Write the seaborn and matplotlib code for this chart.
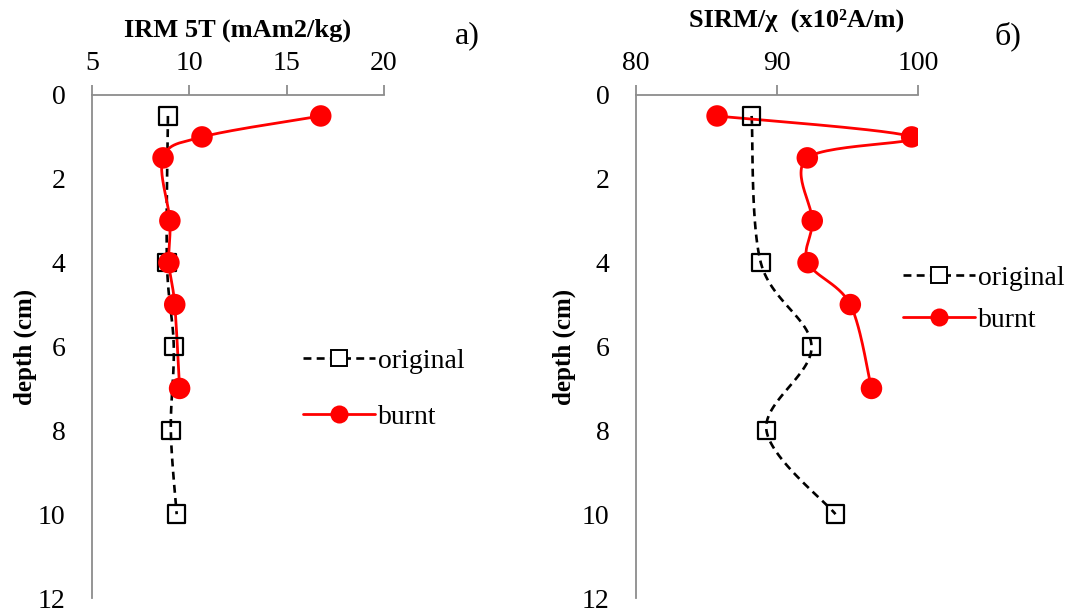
import numpy as np
import pandas as pd
import seaborn as sns
import matplotlib.pyplot as plt
from matplotlib.lines import Line2D

# depth (cm) and measured values
depth_orig = [0.5, 4, 6, 8, 10]
depth_burnt = [0.5, 1, 1.5, 3, 4, 5, 7]

irm_orig = [8.9, 8.85, 9.2, 9.05, 9.35]
irm_burnt = [16.75, 10.65, 8.65, 9.0, 8.95, 9.25, 9.5]

sirm_orig = [88.2, 88.85, 92.45, 89.25, 94.15]
sirm_burnt = [85.75, 99.55, 92.15, 92.5, 92.2, 95.2, 96.7]

panels = [
    dict(title="IRM 5T (mAm2/kg)", tag="a)", xlim=(5, 20), xticks=[5, 10, 15, 20],
         orig=irm_orig, burnt=irm_burnt, ylab_x=37,
         title_xy=(238, 30), tag_xy=(467, 36), leg_xy=(303, 389), spacing=1.1),
    dict(title="SIRM/χ  (x10²A/m)", tag="б)", xlim=(80, 100), xticks=[80, 90, 100],
         orig=sirm_orig, burnt=sirm_burnt, ylab_x=576,
         title_xy=(797, 20), tag_xy=(1008, 36), leg_xy=(903, 299), spacing=0.6),
]


def smooth(x, y, sx, sy, n=30):
    # Excel-like smoothed line: cubic bezier through the points
    p = np.column_stack([np.asarray(x) * sx, np.asarray(y) * sy])
    ext = np.vstack([p[0], p, p[-1]])
    out = []
    t = np.linspace(0, 1, n)[:, None]
    for i in range(1, len(ext) - 2):
        p0, p1, p2, p3 = ext[i - 1], ext[i], ext[i + 1], ext[i + 2]
        c1 = p1 + (p2 - p0) / 6
        c2 = p2 - (p3 - p1) / 6
        seg = ((1 - t) ** 3) * p1 + 3 * ((1 - t) ** 2) * t * c1 + 3 * (1 - t) * t ** 2 * c2 + t ** 3 * p2
        out.append(seg if i == 1 else seg[1:])
    out = np.vstack(out)
    return out[:, 0] / sx, out[:, 1] / sy


sns.set_theme(style="white")
plt.rcParams['font.family'] = ['Liberation Serif', 'DejaVu Serif']
plt.rcParams['text.color'] = 'black'
plt.rcParams['axes.labelcolor'] = 'black'
gray = "#8c8c8c"
W, H = 1065, 610

fig = plt.figure(figsize=(W / 100, H / 100), dpi=100)
axes = [fig.add_axes([92 / W, 12 / H, 292 / W, 503 / H]),
        fig.add_axes([636 / W, 12 / H, 282 / W, 503 / H])]

for ax, pn in zip(axes, panels):
    x0, x1 = pn["xlim"]
    pos = ax.get_position()
    w_px, h_px = pos.width * W, pos.height * H
    sx, sy = w_px / (x1 - x0), h_px / 12

    xs, ys = smooth(pn["orig"], depth_orig, sx, sy)
    sns.lineplot(x=xs, y=ys, sort=False, estimator=None, ax=ax, color="black",
                 lw=1.9, linestyle=(0, (3, 2)), zorder=2)
    xs, ys = smooth(pn["burnt"], depth_burnt, sx, sy)
    sns.lineplot(x=xs, y=ys, sort=False, estimator=None, ax=ax, color="red",
                 lw=2.0, zorder=3)
    sns.scatterplot(x=pn["orig"], y=depth_orig, ax=ax, marker="s", s=160,
                    facecolor="none", edgecolor="black", linewidth=1.6, zorder=4)
    sns.scatterplot(x=pn["burnt"], y=depth_burnt, ax=ax, marker="o", s=240,
                    color="red", edgecolor="none", zorder=5)

    ax.set_xlim(x0, x1)
    ax.set_ylim(12, 0)
    ax.set_xticks(pn["xticks"])
    ax.set_yticks(range(0, 13, 2))
    ax.xaxis.tick_top()
    for s in ["right", "bottom"]:
        ax.spines[s].set_visible(False)
    for s in ["left", "top"]:
        ax.spines[s].set_color(gray)
        ax.spines[s].set_linewidth(1.3)
    ax.tick_params(axis="both", colors=gray, labelcolor="black", labelsize=20,
                   length=7, width=1.3, direction="out")
    ax.tick_params(axis="x", pad=7)
    ax.tick_params(axis="y", pad=12)
    ax.set_xlabel("")
    ax.set_ylabel("depth (cm)", fontsize=18, fontweight="bold")
    ax.yaxis.set_label_coords((pn["ylab_x"] - pos.x0 * W) / w_px, 0.5)
    ax.set_facecolor("white")

    fig.text(pn["title_xy"][0] / W, 1 - pn["title_xy"][1] / H, pn["title"],
             fontsize=19, fontweight="bold", ha="center", va="center")
    fig.text(pn["tag_xy"][0] / W, 1 - pn["tag_xy"][1] / H, pn["tag"],
             fontsize=23, ha="center", va="center")

    handles = [
        Line2D([], [], color="black", lw=1.9, linestyle=(0, (3, 2)), marker="s",
               markersize=11, markerfacecolor="white", markeredgecolor="black",
               markeredgewidth=1.4),
        Line2D([], [], color="red", lw=2.0, marker="o", markersize=13,
               markeredgecolor="none"),
    ]
    fig.legend(handles, ["original", "burnt"], loc="center left",
               bbox_to_anchor=(pn["leg_xy"][0] / W, 1 - pn["leg_xy"][1] / H),
               frameon=False, fontsize=20, handlelength=2.6, handletextpad=0.1,
               borderaxespad=0, borderpad=0, labelspacing=pn["spacing"])

fig.savefig("out.png", dpi=100, facecolor="white")
